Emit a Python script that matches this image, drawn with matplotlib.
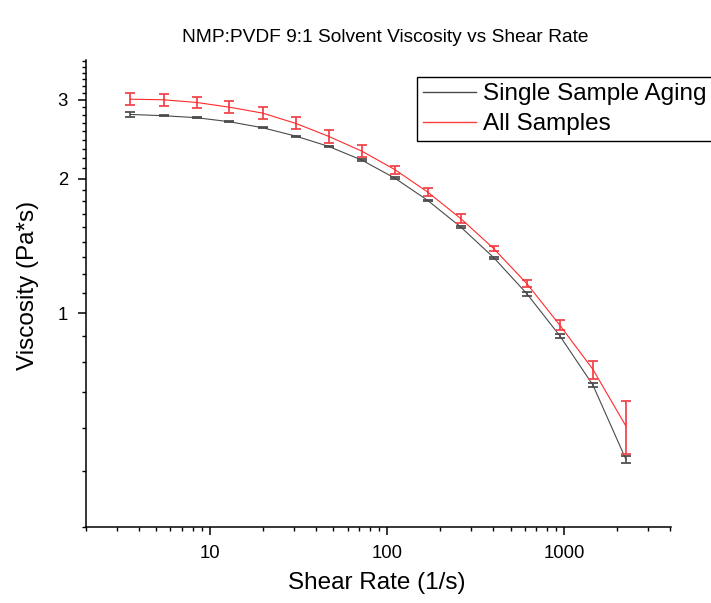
import numpy as np
import matplotlib
matplotlib.use("Agg")
import matplotlib.pyplot as plt
from matplotlib.ticker import FixedLocator, NullFormatter
from matplotlib.lines import Line2D

plt.rcParams['font.family'] = ['Liberation Sans', 'DejaVu Sans']

# ---- data ----
shear_rate = [3.56, 5.48, 8.42, 12.9, 19.9, 30.6, 47.0, 72.2, 111, 170, 262, 402, 618, 950, 1460, 2240]

single_visc = [2.781, 2.763, 2.735, 2.679, 2.597, 2.488, 2.359, 2.199, 2.004, 1.788,
               1.558, 1.331, 1.106, 0.890, 0.691, 0.472]
single_err = [0.035, 0.006, 0.006, 0.006, 0.006, 0.006, 0.007, 0.007, 0.007, 0.007,
              0.007, 0.008, 0.011, 0.008, 0.007, 0.009]

all_visc = [3.008, 2.999, 2.958, 2.887, 2.800, 2.656, 2.484, 2.303, 2.094, 1.866,
            1.627, 1.394, 1.165, 0.940, 0.749, 0.560]
all_err = [0.093, 0.093, 0.088, 0.087, 0.087, 0.082, 0.077, 0.071, 0.043, 0.039,
           0.036, 0.019, 0.020, 0.024, 0.035, 0.076]

series_labels = ["Single Sample Aging", "All Samples"]
title = "NMP:PVDF 9:1 Solvent Viscosity vs Shear Rate"
xlabel = "Shear Rate (1/s)"
ylabel = "Viscosity (Pa*s)"
x_major = [10, 100, 1000]
y_major = [1, 2, 3]

# ---- figure ----
W, H = 711, 603
fig = plt.figure(figsize=(W / 100, H / 100), dpi=100)
left, right, top, bottom = 86, 671, 60, 527
ax = fig.add_axes([left / W, 1 - bottom / H, (right - left) / W, (bottom - top) / H])

black_col = '#4a4a4a'
red_col = '#ff2a2a'

ax.errorbar(shear_rate, single_visc, yerr=single_err, color=black_col, lw=0.8,
            ecolor='#505050', elinewidth=1.2, capsize=3.5, capthick=1.3, zorder=3)
ax.errorbar(shear_rate, all_visc, yerr=all_err, color=red_col, lw=0.8,
            ecolor='#f0464e', elinewidth=1.3, capsize=3.3, capthick=1.3, zorder=4)

ax.set_xscale('log')
ax.set_yscale('log')
ax.set_xlim(2.0, 4030)
ax.set_ylim(0.333, 3.68)

ax.xaxis.set_major_locator(FixedLocator(x_major))
ax.set_xticklabels([str(v) for v in x_major])
xminor = [m * 10 ** e for e in range(0, 4) for m in range(2, 10)]
ax.xaxis.set_minor_locator(FixedLocator(xminor))
ax.xaxis.set_minor_formatter(NullFormatter())

ax.yaxis.set_major_locator(FixedLocator(y_major))
ax.set_yticklabels([str(v) for v in y_major])
yminor = [b + k / 9 for b in (0, 1, 2, 3) for k in range(1, 9)]
yminor = [v for v in yminor if 0.33 <= v <= 3.7]
ax.yaxis.set_minor_locator(FixedLocator(yminor))
ax.yaxis.set_minor_formatter(NullFormatter())

for s in ('top', 'right'):
    ax.spines[s].set_visible(False)
for s in ('left', 'bottom'):
    ax.spines[s].set_linewidth(1.1)

ax.tick_params(which='major', direction='out', length=6, width=1.1, labelsize=13.3, pad=7)
ax.tick_params(which='minor', direction='out', length=3, width=1.0)

cx = (left + right) / 2 / W
fig.text(cx + 0.009, 1 - 37 / H, title, ha='center', va='center', fontsize=13.8)
fig.text(cx - 0.002, 1 - 583 / H, xlabel, ha='center', va='center', fontsize=17.5)
fig.text(28 / W, 1 - 285 / H, ylabel, ha='center', va='center', fontsize=17.5, rotation=90)

handles = [Line2D([], [], color=black_col, lw=1.0), Line2D([], [], color='#ff4040', lw=1.0)]
leg = ax.legend(handles, series_labels, loc='upper left', bbox_to_anchor=(416.7 / W, 1 - 77.3 / H),
                bbox_transform=fig.transFigure, fontsize=17.5, frameon=True,
                fancybox=False, framealpha=1, edgecolor='black', borderpad=0.25,
                labelspacing=0.32, handlelength=2.2, handletextpad=0.28, borderaxespad=0)
leg.get_frame().set_linewidth(1.0)

fig.savefig('out.png', dpi=100)
